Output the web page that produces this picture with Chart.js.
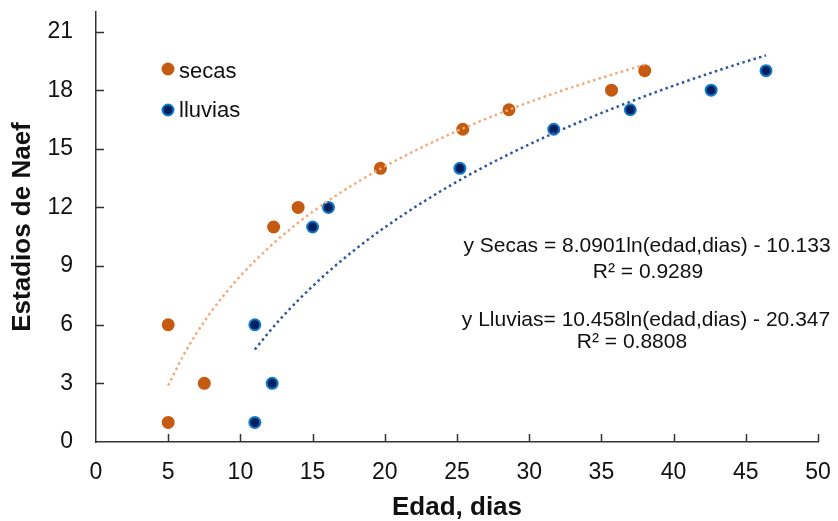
<!DOCTYPE html>
<html><head><meta charset="utf-8">
<script src="https://cdn.jsdelivr.net/npm/chart.js@4.4.0/dist/chart.umd.min.js"></script>
<style>html,body{margin:0;padding:0;background:#fff;}#wrap{width:838px;height:521px;}</style>
</head><body><div id="wrap"><canvas id="c" width="838" height="521"></canvas></div>
<script>
// ---- data ----
const seriesNames = ['secas', 'lluvias'];
const secasEdad = [5, 5, 7.5, 12.3, 14, 19.7, 25.4, 28.6, 35.7, 38];
const secasEstadio = [1, 6, 3, 11, 12, 14, 16, 17, 18, 19];
const lluviasEdad = [11, 11, 12.2, 15, 16.1, 25.2, 31.7, 37, 42.6, 46.4];
const lluviasEstadio = [1, 6, 3, 11, 12, 14, 16, 17, 18, 19];
// trendline points
const secasTrendEdad = [5, 6, 7, 8, 9, 10, 12, 14, 16, 18, 20, 23, 26, 29, 32, 35, 38];
const secasTrendEstadio = [2.89, 4.36, 5.61, 6.69, 7.64, 8.50, 9.97, 11.22, 12.30, 13.25, 14.10, 15.23, 16.23, 17.11, 17.91, 18.63, 19.30];
const lluviasTrendEdad = [11, 12, 13, 14, 16, 18, 20, 23, 26, 29, 32, 35, 38, 41, 44, 46.4];
const lluviasTrendEstadio = [4.73, 5.64, 6.48, 7.25, 8.65, 9.88, 10.98, 12.44, 13.73, 14.87, 15.90, 16.83, 17.69, 18.49, 19.23, 19.78];
const xTicks = [0, 5, 10, 15, 20, 25, 30, 35, 40, 45, 50];
const yTicks = [0, 3, 6, 9, 12, 15, 18, 21];
const xTitle = 'Edad, dias';
const yTitle = 'Estadios de Naef';
const eqTexts = [
  'y Secas = 8.0901ln(edad,dias) - 10.133',
  'R² = 0.9289',
  'y Lluvias= 10.458ln(edad,dias) - 20.347',
  'R² = 0.8808'
];

const FONT = "'Liberation Sans', Arial, sans-serif";
const TXT = '#111';
const ORANGE = '#C55A11';
const ORANGE_TREND = '#F4A97A';
const BLUE_FILL = '#002060';
const BLUE_BORDER = '#1279C9';
const BLUE_TREND = '#2E55A0';

const pts = (xs, ys) => xs.map((x, i) => ({x: x, y: ys[i]}));

const extras = {
  id: 'extras',
  afterDraw(chart) {
    const ctx = chart.ctx;
    const xs = chart.scales.x, ys = chart.scales.y;
    ctx.save();
    // inward tick marks
    ctx.strokeStyle = '#333';
    ctx.lineWidth = 1.5;
    ctx.beginPath();
    yTicks.forEach(v => {
      if (v === 0) return;
      const py = Math.round(ys.getPixelForValue(v)) + 0.5;
      ctx.moveTo(xs.left, py); ctx.lineTo(xs.left + 8, py);
    });
    xTicks.forEach(v => {
      if (v === 0) return;
      const px = Math.round(xs.getPixelForValue(v)) + 0.5;
      ctx.moveTo(px, ys.bottom); ctx.lineTo(px, ys.bottom - 8);
    });
    ctx.stroke();
    // legend
    const items = [
      {name: seriesNames[0], fill: ORANGE, border: ORANGE, y: 69, base: 78},
      {name: seriesNames[1], fill: BLUE_FILL, border: BLUE_BORDER, y: 110, base: 117}
    ];
    items.forEach(it => {
      ctx.beginPath();
      ctx.arc(168, it.y, it.fill === ORANGE ? 6.5 : 5.5, 0, Math.PI * 2);
      ctx.fillStyle = it.fill; ctx.fill();
      if (it.fill !== ORANGE) { ctx.lineWidth = 2; ctx.strokeStyle = it.border; ctx.stroke(); }
      ctx.fillStyle = TXT;
      ctx.font = '22px ' + FONT;
      ctx.textAlign = 'left'; ctx.textBaseline = 'alphabetic';
      ctx.fillText(it.name, 179, it.base);
    });
    // equations
    ctx.font = '21px ' + FONT;
    ctx.textAlign = 'center';
    ctx.fillStyle = TXT;
    ctx.fillText(eqTexts[0], 647, 252);
    ctx.fillText(eqTexts[1], 648, 278);
    ctx.fillText(eqTexts[2], 646, 326);
    ctx.fillText(eqTexts[3], 632, 348);
    ctx.restore();
  }
};

new Chart(document.getElementById('c'), {
  type: 'scatter',
  data: {
    datasets: [
      {label: 'secas trend', type: 'line', data: pts(secasTrendEdad, secasTrendEstadio),
       borderColor: ORANGE_TREND, borderWidth: 2.5, borderDash: [2.5, 3.3], pointRadius: 0,
       fill: false, cubicInterpolationMode: 'monotone', order: 0},
      {label: 'lluvias trend', type: 'line', data: pts(lluviasTrendEdad, lluviasTrendEstadio),
       borderColor: BLUE_TREND, borderWidth: 2.5, borderDash: [2.5, 3.3], pointRadius: 0,
       fill: false, cubicInterpolationMode: 'monotone', order: 0},
      {label: seriesNames[0], data: pts(secasEdad, secasEstadio),
       backgroundColor: ORANGE, borderColor: ORANGE, borderWidth: 0, pointRadius: 6.5, order: 2},
      {label: seriesNames[1], data: pts(lluviasEdad, lluviasEstadio),
       backgroundColor: BLUE_FILL, borderColor: BLUE_BORDER, borderWidth: 2, pointRadius: 5.5, order: 1}
    ]
  },
  options: {
    responsive: false,
    animation: false,
    devicePixelRatio: 1,
    layout: {padding: {top: 12, right: 20, left: 0, bottom: 0}},
    plugins: {legend: {display: false}, tooltip: {enabled: false}},
    scales: {
      x: {
        type: 'linear', min: 0, max: 50,
        afterBuildTicks: s => { s.ticks = xTicks.map(v => ({value: v})); },
        afterFit: s => { s.height = 79; s.paddingLeft = 0; s.paddingRight = 0; },
        grid: {display: false, drawTicks: false},
        border: {display: true, color: '#333', width: 1.5},
        ticks: {color: TXT, font: {family: FONT, size: 23}, padding: 17, maxRotation: 0, autoSkip: false},
        title: {display: true, text: xTitle, color: TXT, font: {family: FONT, size: 26, weight: 'bold', lineHeight: 1}, padding: {top: 0, bottom: 0}}
      },
      y: {
        type: 'linear', min: 0, max: 22,
        afterBuildTicks: s => { s.ticks = yTicks.map(v => ({value: v})); },
        afterFit: s => { s.width = 96; s.paddingTop = 0; s.paddingBottom = 0; },
        grid: {display: false, drawTicks: false},
        border: {display: true, color: '#333', width: 1.5},
        ticks: {color: TXT, font: {family: FONT, size: 23}, padding: 23, autoSkip: false},
        title: {display: true, text: yTitle, color: TXT, font: {family: FONT, size: 26, weight: 'bold', lineHeight: 1}, padding: {top: 10, bottom: 0}}
      }
    }
  },
  plugins: [extras]
});
</script></body></html>
